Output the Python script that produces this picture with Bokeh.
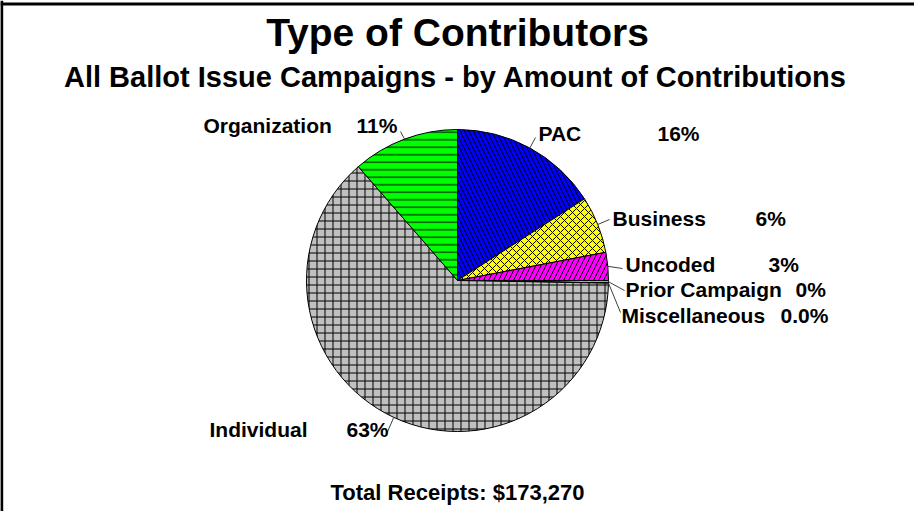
import math
from bokeh.plotting import figure
from bokeh.models import Range1d, Span, ColumnDataSource
from bokeh.core.properties import value
from bokeh.embed import file_html
from bokeh.resources import INLINE

# ---- data ----
categories = ["PAC", "Business", "Uncoded", "Prior Campaign", "Miscellaneous", "Individual", "Organization"]
shares = [15.9, 6.1, 3.0, 0.25, 0.02, 63.3, 11.4]
pct_labels = ["16%", "6%", "3%", "0%", "0.0%", "63%", "11%"]
colors = ["#0000FF", "#FFFF00", "#FF00FF", "#00FFFF", "#FF0000", "#C0C0C0", "#00FF00"]
hatches = ["\\", "x", "/", " ", " ", "+", "-"]
hatch_scales = [9, 8, 10, 8, 8, 8, 7.5]
title = "Type of Contributors"
subtitle = "All Ballot Issue Campaigns - by Amount of Contributions"
footer = "Total Receipts: $173,270"

# ---- layout (pixel positions, y = text baseline measured from top) ----
W, H = 914, 511
CX, CY, R = 457, 280, 151
FONT = "Liberation Sans"
LBL, TTL, SUB, FTR = 21, 39, 29, 22
label_pos = [(538, 141), (612, 226), (625, 272), (625, 297), (621, 323), (209, 437), (203, 133)]
pct_pos = [(657, 141), (755, 226), (768, 272), (795, 297), (780, 323), (346, 437), (356, 133)]
leader_end = [(535, 137), (609, 219), (622, 268), (624, 290), (620, 312), (385, 436), (400, 131)]

def fy(ypx):
    return H - ypx

def ty(baseline, size):
    # svg text lands ~0.38 em below the requested alphabetic baseline; compensate
    return fy(baseline - 0.38 * size)

p = figure(width=W, height=H, output_backend="svg", toolbar_location=None,
           x_range=Range1d(0, W), y_range=Range1d(0, H), min_border=0,
           background_fill_color="white", border_fill_color="white",
           styles={"position": "absolute", "left": "0px", "top": "0px"})
p.axis.visible = False
p.grid.visible = False
p.outline_line_color = None

total = sum(shares)
starts, ends, mids = [], [], []
cum = 0.0
for s in shares:
    a0 = math.pi / 2 - 2 * math.pi * cum / total
    cum += s
    a1 = math.pi / 2 - 2 * math.pi * cum / total
    starts.append(a0)
    ends.append(a1)
    mids.append((a0 + a1) / 2)

src = ColumnDataSource(dict(start=starts, end=ends, color=colors, hatch=hatches,
                            hs=hatch_scales, cat=categories))
p.wedge(x=CX, y=fy(CY), radius=R, start_angle="start", end_angle="end", direction="clock",
        fill_color="color", line_color="black", line_width=1,
        hatch_pattern="hatch", hatch_color="black", hatch_weight=1, hatch_scale="hs",
        source=src)

# leader lines from slice mid-points
x0 = [CX + R * math.cos(m) for m in mids]
y0 = [fy(CY) + R * math.sin(m) for m in mids]
x1 = [e[0] for e in leader_end]
y1 = [fy(e[1]) for e in leader_end]
p.segment(x0=x0, y0=y0, x1=x1, y1=y1, line_color="#404040", line_width=1)

# labels
p.text(x=[q[0] for q in label_pos], y=[ty(q[1], LBL) for q in label_pos], text=categories,
       text_font=value(FONT), text_font_style="bold", text_font_size=f"{LBL}px",
       text_align="left", text_baseline="alphabetic", text_color="black")
p.text(x=[q[0] for q in pct_pos], y=[ty(q[1], LBL) for q in pct_pos], text=pct_labels,
       text_font=value(FONT), text_font_style="bold", text_font_size=f"{LBL}px",
       text_align="left", text_baseline="alphabetic", text_color="black")

p.text(x=[457], y=[ty(47, TTL)], text=[title], text_font=value(FONT), text_font_style="bold",
       text_font_size=f"{TTL}px", text_align="center", text_baseline="alphabetic", text_color="black")
p.text(x=[455], y=[ty(88, SUB)], text=[subtitle], text_font=value(FONT), text_font_style="bold",
       text_font_size=f"{SUB}px", text_align="center", text_baseline="alphabetic", text_color="black")
p.text(x=[457], y=[ty(500, FTR)], text=[footer], text_font=value(FONT), text_font_style="bold",
       text_font_size=f"{FTR}px", text_align="center", text_baseline="alphabetic", text_color="black")

# frame (top and left edges)
p.add_layout(Span(location=fy(3.5), dimension="width", line_color="black", line_width=3))
p.add_layout(Span(location=1.2, dimension="height", line_color="black", line_width=3))

open("out.html", "w").write(file_html(p, INLINE))
